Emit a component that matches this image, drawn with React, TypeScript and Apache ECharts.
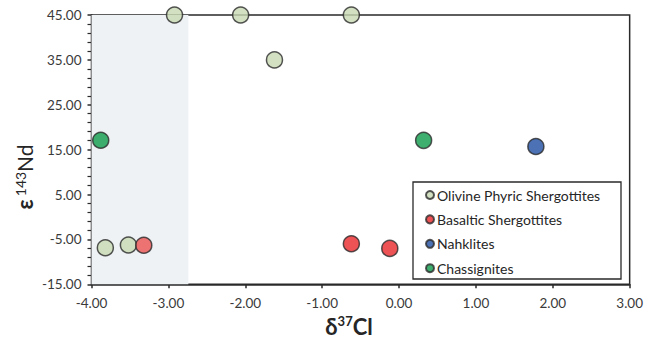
import React, { useEffect, useRef } from "react";
import * as echarts from "echarts";

const seriesNames = ["Olivine Phyric Shergottites", "Basaltic Shergottites", "Nahklites", "Chassignites"];
const olivineX = [-2.92, -2.06, -0.62, -1.62, -3.82, -3.52];
const olivineY = [45, 45, 45, 35, -6.85, -6.25];
const basaltX = [-3.32, -0.62, -0.12];
const basaltY = [-6.3, -5.96, -7.0];
const nakhliteX = [1.78];
const nakhliteY = [15.7];
const chassX = [-3.88, 0.32];
const chassY = [17.1, 17.07];
const shadeRange = [-4, -2.74];
const xTicks = { min: -4, max: 3, interval: 1 };
const yTicks = { min: -15, max: 45, interval: 10 };

const colors = ["#c8d9b3", "#e8272b", "#1f4fa2", "#0f9b4b"];
const FONT = "Lato";

const zip = (xs: number[], ys: number[]) => xs.map((x, i) => [x, ys[i]]);

export default function App() {
  const ref = useRef<HTMLDivElement>(null);
  useEffect(() => {
    document.body.style.margin = "0";
    const chart = echarts.init(ref.current!, null, { renderer: "svg" });
    const marker = (c: string) => ({ color: c, borderColor: "#2a2a2a", borderWidth: 1.5 });
    const basaltData = zip(basaltX, basaltY).map((d, i) =>
      i === 0 ? { value: d, itemStyle: { color: "#ec5252" } } : d
    );
    chart.setOption({
      animation: false,
      backgroundColor: "#ffffff",
      textStyle: { fontFamily: FONT },
      grid: {
        left: 91.5,
        right: 14.5,
        top: 15,
        bottom: 56.7,
        show: true,
        borderColor: "#2a2a2a",
        borderWidth: 1.5,
        backgroundColor: "transparent",
      },
      xAxis: {
        type: "value",
        min: xTicks.min,
        max: xTicks.max,
        interval: xTicks.interval,
        axisLine: { lineStyle: { color: "#2a2a2a", width: 1.5 }, onZero: false },
        axisTick: { show: true, length: 4, lineStyle: { color: "#2a2a2a", width: 1.5 } },
        splitLine: { show: false },
        axisLabel: {
          formatter: (v: number) => v.toFixed(2),
          color: "#3a3a3a",
          fontSize: 13.5,
          fontFamily: FONT,
          margin: 12,
        },
      },
      yAxis: {
        type: "value",
        min: yTicks.min,
        max: yTicks.max,
        interval: yTicks.interval,
        axisLine: { show: true, lineStyle: { color: "#2a2a2a", width: 1.5 }, onZero: false },
        axisTick: { show: true, length: 4, lineStyle: { color: "#2a2a2a", width: 1.5 } },
        minorTick: { show: true, splitNumber: 5, length: 4, lineStyle: { color: "#2a2a2a", width: 1.2 } },
        splitLine: { show: false },
        axisLabel: {
          formatter: (v: number) => v.toFixed(2),
          color: "#3a3a3a",
          fontSize: 13.5,
          fontFamily: FONT,
          margin: 10,
        },
      },
      legend: {
        orient: "vertical",
        left: 425,
        top: 187,
        icon: "circle",
        itemWidth: 8,
        itemHeight: 8,
        itemGap: 8.4,
        padding: 0,
        textStyle: { color: "#262626", fontSize: 14, fontFamily: FONT, lineHeight: 16, padding: [0, 0, 0, -2] },
        data: seriesNames,
      },
      graphic: [
        {
          type: "rect",
          shape: { x: 413, y: 182, width: 208, height: 97 },
          style: { fill: "#ffffff", stroke: "#2a2a2a", lineWidth: 1.3 },
          z: 1,
        },
        {
          type: "text",
          x: 349,
          y: 326,
          style: {
            text: "{a|δ}{b|37}{a|Cl}",
            align: "center",
            verticalAlign: "middle",
            rich: {
              a: { fontFamily: FONT, fontWeight: "bold", fontSize: 22, fill: "#262626" },
              b: { fontFamily: FONT, fontWeight: "bold", fontSize: 13, fill: "#262626", padding: [0, 0, 10, 0] },
            },
          },
        },
        {
          type: "text",
          x: 24,
          y: 177,
          rotation: Math.PI / 2,
          style: {
            text: "{a|ε} {b|143}{c|Nd}",
            align: "center",
            verticalAlign: "middle",
            rich: {
              a: { fontFamily: FONT, fontWeight: "bold", fontSize: 22, fill: "#262626" },
              b: { fontFamily: FONT, fontSize: 14, fill: "#262626", padding: [0, 0, 8, 0] },
              c: { fontFamily: FONT, fontSize: 21, fill: "#262626" },
            },
          },
        },
      ],
      series: [
        {
          name: seriesNames[0],
          type: "scatter",
          symbolSize: 16,
          clip: false,
          z: 3,
          itemStyle: marker(colors[0]),
          data: zip(olivineX, olivineY),
          markArea: {
            silent: true,
            itemStyle: { color: "#eef2f4" },
            data: [[{ xAxis: shadeRange[0], yAxis: yTicks.min }, { xAxis: shadeRange[1], yAxis: yTicks.max }]],
          },
        },
        {
          name: seriesNames[1],
          type: "scatter",
          symbolSize: 16,
          clip: false,
          z: 3,
          itemStyle: marker(colors[1]),
          data: basaltData,
        },
        {
          name: seriesNames[2],
          type: "scatter",
          symbolSize: 16,
          clip: false,
          z: 3,
          itemStyle: marker(colors[2]),
          data: zip(nakhliteX, nakhliteY),
        },
        {
          name: seriesNames[3],
          type: "scatter",
          symbolSize: 16,
          clip: false,
          z: 3,
          itemStyle: marker(colors[3]),
          data: zip(chassX, chassY),
        },
      ],
    });
    return () => chart.dispose();
  }, []);
  return <div ref={ref} style={{ width: 646, height: 341 }} />;
}
